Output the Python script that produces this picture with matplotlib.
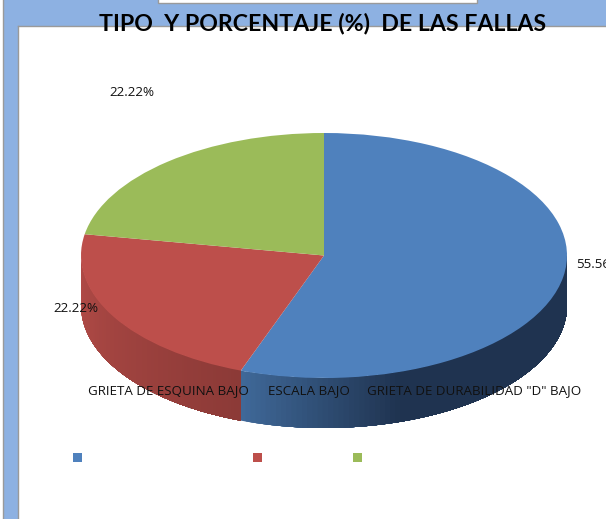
import numpy as np
import matplotlib
matplotlib.use("Agg")
import matplotlib.pyplot as plt
from matplotlib.colors import to_rgb
from matplotlib.patches import Rectangle

W, H = 606, 519

title = "TIPO  Y PORCENTAJE (%)  DE LAS FALLAS"
categories = ["GRIETA DE ESQUINA BAJO", "ESCALA BAJO", 'GRIETA DE DURABILIDAD "D" BAJO']
values = [55.56, 22.22, 22.22]
value_labels = ["55.56%", "22.22%", "22.22%"]
colors = ["#4f81bd", "#bd4f4b", "#9bbb59"]
# side wall shades, left end -> right end, per slice
wall_left = ["#3f6898", "#b24b47", "#9bbb59"]
wall_right = ["#1f3350", "#8c3a37", "#9bbb59"]
wall_ramp = [2.9, 1.0, 1.0]

# pixel box of the top ellipse
left, right, top, bottom = 81, 567, 133, 378
depth = 50

fig = plt.figure(figsize=(W / 100, H / 100), dpi=100)

# page background in pixel coordinates
bg = fig.add_axes([0, 0, 1, 1])
bg.set_xlim(0, W)
bg.set_ylim(H, 0)
bg.axis("off")
bg.add_patch(Rectangle((3, 0), W, 26, fc="#8db1e2", ec="none"))
bg.add_patch(Rectangle((3, 0), 15, H, fc="#8db1e2", ec="none"))
bg.add_patch(Rectangle((18, 26), W, H, fc="white", ec="none"))
bg.plot([18, W], [26, 26], color="#9a9a9a", lw=1)
bg.plot([18, 18], [26, H], color="#9a9a9a", lw=1)
bg.plot([3, 3], [0, H], color="#9a9a9a", lw=1)
bg.add_patch(Rectangle((158, -2), 319, 5, fc="white", ec="#9a9a9a", lw=1))

# pie axes fits the ellipse exactly, so radius 1 fills it
ax = fig.add_axes([left / W, 1 - bottom / H, (right - left) / W, (bottom - top) / H])
ax.patch.set_visible(False)
wedges, _ = ax.pie(values, colors=colors, startangle=90, counterclock=False,
                   radius=1, wedgeprops=dict(linewidth=0))
ax.set_aspect("auto")
ax.set_xlim(-1, 1)
ax.set_ylim(-1, 1)
for w in wedges:
    w.set_clip_on(False)
    w.set_zorder(5)

# side wall: each strip runs to the end of its slice and the next one paints
# over it, so no seams show between strips
dy = depth / ((bottom - top) / 2)
for w, cl, cr, ramp in zip(wedges, wall_left, wall_right, wall_ramp):
    t1, t2 = w.theta1 % 360, w.theta2 % 360
    if t2 <= t1:
        t2 += 360
    a1, a2 = max(t1, 180), min(t2, 360)
    if a2 <= a1:
        continue
    edges = np.radians(np.linspace(a1, a2, 90))
    c0, c1 = np.array(to_rgb(cl)), np.array(to_rgb(cr))
    for i in range(len(edges) - 1):
        f = min(1, i / (len(edges) - 2) * ramp)
        c = c0 + (c1 - c0) * f
        xs = np.cos(edges[i:])
        ys = np.sin(edges[i:])
        ax.fill(np.r_[xs, xs[::-1]], np.r_[ys, ys[::-1] - dy], color=c,
                lw=0, clip_on=False, zorder=2)

# texts and legend
over = fig.add_axes([0, 0, 1, 1])
over.set_xlim(0, W)
over.set_ylim(H, 0)
over.axis("off")
over.patch.set_visible(False)
over.text(323, 24, title, ha="center", va="center", fontsize=16.7,
          fontweight="bold", family="Lato", color="black")
label_pos = [(576, 265), (53, 308), (109, 92)]
for (x, y), s in zip(label_pos, value_labels):
    over.text(x, y, s, ha="left", va="center", fontsize=9.6, family="Open Sans",
              color="#111111", clip_on=True)
legend_x = [88, 268, 367]
legend_sq = [73, 253, 353]
for x, sq, s, c in zip(legend_x, legend_sq, categories, colors):
    over.text(x, 391, s, ha="left", va="center", fontsize=9.6, family="Open Sans",
              color="#111111")
    over.add_patch(Rectangle((sq, 453), 9, 9, fc=c, ec="none"))

fig.savefig("out.png", dpi=100)
